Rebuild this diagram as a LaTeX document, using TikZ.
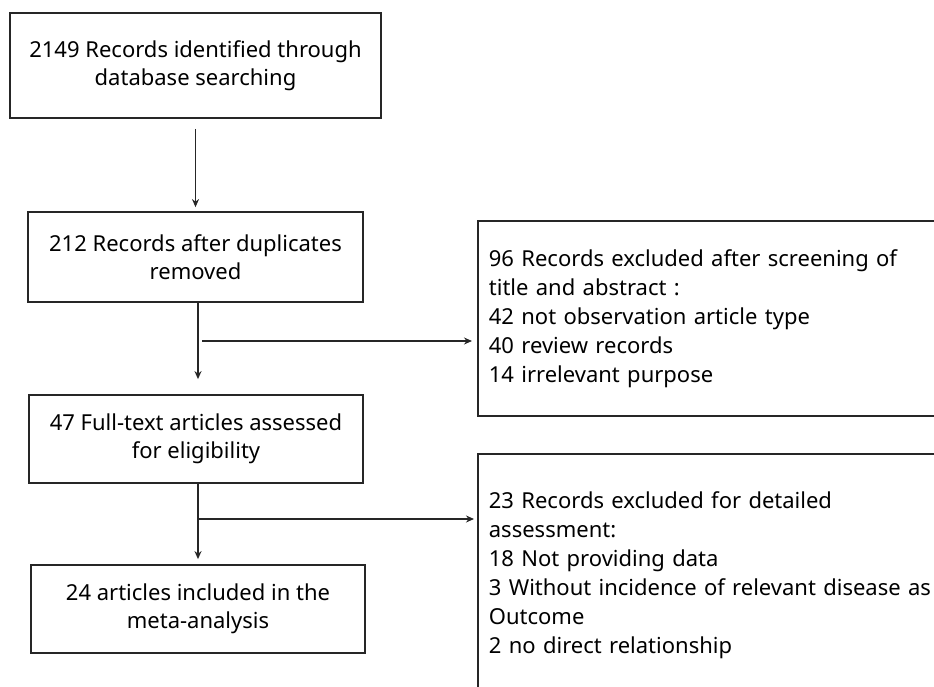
\documentclass[tikz,border=0pt]{standalone}
\usepackage{fontspec}
\setmainfont{Noto Sans}
\usetikzlibrary{arrows.meta,calc}
\begin{document}
\begin{tikzpicture}[x=1pt,y=-1pt,
  box/.style={draw=black!85,line width=1.8pt,rectangle,inner sep=0pt,align=center,font=\fontsize{22}{27.5}\selectfont},
  sidebox/.style={draw=black!85,line width=1.8pt,rectangle,anchor=north west,inner xsep=11pt,inner ysep=0pt,align=left,font=\fontsize{22}{29}\selectfont,text width=478pt},
  arr/.style={draw=black!85,line width=1.5pt,-{Stealth[length=8pt,width=7pt]}}]
\useasboundingbox (0,0) rectangle (934,687);
\clip (0,0) rectangle (934,687);
\node[box,minimum width=371pt,minimum height=105pt] (b1) at (195.5,65.5) {2149 Records identified through\\database searching};
\node[box,minimum width=335pt,minimum height=90pt] (b2) at (195.5,257) {212 Records after duplicates\\removed};
\node[box,minimum width=334pt,minimum height=88pt] (b3) at (196,439) {47 Full-text articles assessed\\for eligibility};
\node[box,minimum width=334pt,minimum height=88pt] (b4) at (198,609) {24 articles included in the\\meta-analysis};
\node[sidebox,minimum height=195pt] (r1) at (477,220) {96 Records excluded after screening of\\title and abstract :\\42 not observation article type\\40 review records\\14 irrelevant purpose};
\node[sidebox,minimum height=243pt] (r2) at (477,453) {23 Records excluded for detailed\\assessment:\\18 Not providing data\\3 Without incidence of relevant disease as\\Outcome\\2 no direct relationship};
\coordinate (j1) at (198,341);
\coordinate (j2) at (198,519);
\draw[arr,shorten <=10pt,shorten >=4pt] (b1.south) -- (b2.north);
\draw[arr,shorten >=15pt] (b2.south -| j1) -- (b3.north -| j1);
\draw[arr,shorten <=4pt,shorten >=5pt] (j1) -- (j1 -| r1.west);
\draw[arr,shorten >=5pt] (b3.south -| j2) -- (b4.north -| j2);
\draw[arr,shorten >=3pt] (j2) -- (j2 -| r2.west);
\end{tikzpicture}
\end{document}
